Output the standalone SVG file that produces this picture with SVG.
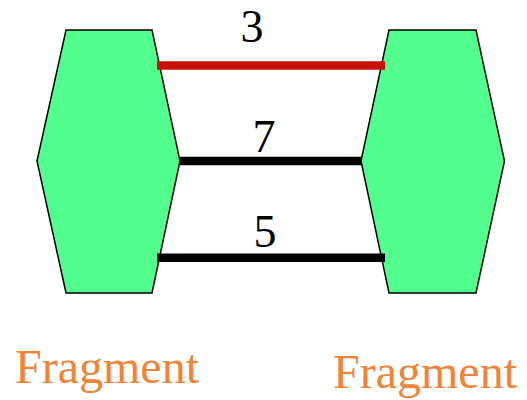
<svg xmlns="http://www.w3.org/2000/svg" width="527" height="400" viewBox="0 0 527 400">
<style>
.frag{fill:#52FF8E;stroke:#000;stroke-width:1.5}
.lbl{font-family:"Liberation Serif",serif;font-size:46px;fill:#000;text-anchor:middle}
.name{font-family:"Liberation Serif",serif;font-size:48px;fill:#F08437}
.bond{stroke-width:8.5;fill:none}
</style>
<rect width="527" height="400" fill="#fff"/>
<g id="fragment-left">
<polygon class="frag" points="66,30 152,30 180,161 152,293 66,293 37,161"/>
<text class="name" x="15" y="383">Fragment</text>
</g>
<g id="fragment-right">
<polygon class="frag" points="389,30 476,30 504.5,161 476,293 389,293 361,161"/>
<text class="name" x="333" y="388">Fragment</text>
</g>
<g id="connectors">
<line class="bond" x1="157" y1="65.5" x2="385" y2="65.5" stroke="#C81208"/>
<line class="bond" x1="180" y1="161" x2="361.5" y2="161" stroke="#000"/>
<line class="bond" x1="157" y1="257.7" x2="385" y2="257.7" stroke="#000"/>
<text class="lbl" x="252" y="42">3</text>
<text class="lbl" x="264" y="151.5">7</text>
<text class="lbl" x="265" y="246.5">5</text>
</g>
</svg>
